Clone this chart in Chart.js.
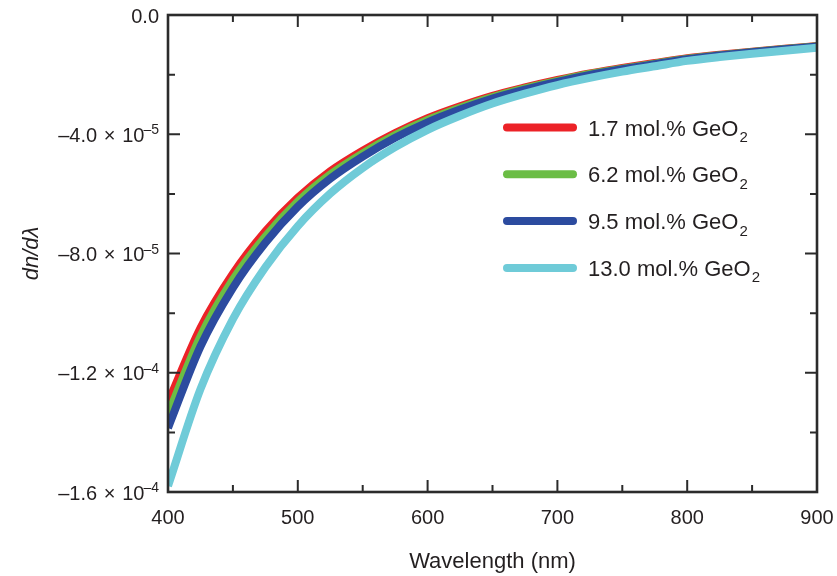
<!DOCTYPE html>
<html lang="en">
<head>
<meta charset="UTF-8">
<title>dn/dλ vs wavelength</title>
<script src="https://cdn.jsdelivr.net/npm/chart.js"></script>
<style>
    html, body { margin: 0; padding: 0; background: #fff; }
    #wrap { width: 837px; height: 576px; }
</style>
</head>
<body>
<div id="wrap"><canvas id="grafico" width="837" height="576"></canvas></div>
<script>
    // wavelength grid (nm)
    const wavelengths = [400, 425, 450, 475, 500, 525, 550, 575, 600, 625, 650,
                         675, 700, 725, 750, 775, 800, 825, 850, 875, 900];

    // dn/dλ values
    const ge17 = [-13.0e-5, -10.5e-5, -8.68e-5, -7.26e-5, -6.13e-5, -5.24e-5, -4.55e-5, -3.96e-5, -3.46e-5, -3.06e-5, -2.71e-5,
                  -2.43e-5, -2.18e-5, -1.96e-5, -1.78e-5, -1.61e-5, -1.45e-5, -1.33e-5, -1.23e-5, -1.13e-5, -1.04e-5];
    const ge62 = [-13.4e-5, -10.78e-5, -8.88e-5, -7.43e-5, -6.26e-5, -5.35e-5, -4.64e-5, -4.03e-5, -3.52e-5, -3.11e-5, -2.75e-5,
                  -2.46e-5, -2.21e-5, -1.98e-5, -1.80e-5, -1.63e-5, -1.47e-5, -1.35e-5, -1.24e-5, -1.14e-5, -1.05e-5];
    const ge95 = [-13.85e-5, -11.12e-5, -9.15e-5, -7.64e-5, -6.43e-5, -5.49e-5, -4.75e-5, -4.12e-5, -3.60e-5, -3.17e-5, -2.80e-5,
                  -2.50e-5, -2.24e-5, -2.01e-5, -1.82e-5, -1.65e-5, -1.48e-5, -1.36e-5, -1.25e-5, -1.15e-5, -1.06e-5];
    const ge130 = [-15.8e-5, -12.55e-5, -10.2e-5, -8.46e-5, -7.08e-5, -5.99e-5, -5.13e-5, -4.43e-5, -3.85e-5, -3.38e-5, -2.97e-5,
                   -2.64e-5, -2.35e-5, -2.11e-5, -1.90e-5, -1.72e-5, -1.54e-5, -1.41e-5, -1.30e-5, -1.20e-5, -1.10e-5];

    const seriesNames = ['1.7 mol.% GeO₂', '6.2 mol.% GeO₂', '9.5 mol.% GeO₂', '13.0 mol.% GeO₂'];
    const seriesColors = ['#ec2227', '#6bbd45', '#2c4b9f', '#6fcbd8'];

    const xMajorTicks = [400, 500, 600, 700, 800, 900];
    const xMinorTicks = [450, 550, 650, 750, 850];
    const yMajorTicks = [0, -4e-5, -8e-5, -1.2e-4, -1.6e-4];
    const yMinorTicks = [-2e-5, -6e-5, -1e-4, -1.4e-4];
    const yTickMantissa = ['0.0', '–4.0\u2004×\u200410', '–8.0\u2004×\u200410', '–1.2\u2004×\u200410', '–1.6\u2004×\u200410'];
    const yTickExponent = ['', '–5', '–5', '–4', '–4'];
    const xTitle = 'Wavelength (nm)';
    const yTitle = 'dn/dλ';

    const FONT = '"Liberation Sans", Arial, Helvetica, sans-serif';
    const AXIS_COLOR = '#2b2b2b';

    function toPoints(values) {
        return wavelengths.map((w, i) => ({ x: w, y: values[i] }));
    }

    // caja, marcas hacia dentro, etiquetas y leyenda
    const framePlugin = {
        id: 'framePlugin',
        afterDatasetsDraw(chart) {
            const c = chart.ctx;
            const a = chart.chartArea;
            const xs = chart.scales.x;
            const ys = chart.scales.y;
            c.save();
            c.strokeStyle = AXIS_COLOR;
            c.lineWidth = 2.6;
            c.strokeRect(a.left, a.top, a.right - a.left, a.bottom - a.top);

            c.lineWidth = 2;
            c.beginPath();
            const tickX = (v, len) => {
                const px = xs.getPixelForValue(v);
                c.moveTo(px, a.bottom); c.lineTo(px, a.bottom - len);
                c.moveTo(px, a.top); c.lineTo(px, a.top + len);
            };
            const tickY = (v, len) => {
                const py = ys.getPixelForValue(v);
                c.moveTo(a.left, py); c.lineTo(a.left + len, py);
                c.moveTo(a.right, py); c.lineTo(a.right - len, py);
            };
            xMajorTicks.forEach(v => tickX(v, 12));
            xMinorTicks.forEach(v => tickX(v, 7));
            yMajorTicks.forEach(v => tickY(v, 12));
            yMinorTicks.forEach(v => tickY(v, 7));
            c.stroke();

            // x tick labels
            c.fillStyle = '#231f20';
            c.font = '20px ' + FONT;
            c.textAlign = 'center';
            c.textBaseline = 'alphabetic';
            xMajorTicks.forEach(v => {
                c.fillText(String(v), xs.getPixelForValue(v), a.bottom + 32);
            });

            // y tick labels with superscript
            yMajorTicks.forEach((v, i) => {
                const py = ys.getPixelForValue(v);
                const rightEdge = a.left - 9;
                c.textAlign = 'left';
                c.font = '14px ' + FONT;
                const expW = yTickExponent[i] ? c.measureText(yTickExponent[i]).width : 0;
                c.font = '20px ' + FONT;
                const mainW = c.measureText(yTickMantissa[i]).width;
                const x0 = rightEdge - expW - mainW + (expW ? 1 : 0);
                c.fillText(yTickMantissa[i], x0, py + 7.5);
                if (yTickExponent[i]) {
                    c.font = '14px ' + FONT;
                    c.fillText(yTickExponent[i], x0 + mainW - 1, py);
                }
            });

            // axis titles
            c.font = '22px ' + FONT;
            c.textAlign = 'center';
            c.fillText(xTitle, (a.left + a.right) / 2, 568);
            c.save();
            c.translate(38, (a.top + a.bottom) / 2);
            c.rotate(-Math.PI / 2);
            c.font = 'italic 22px ' + FONT;
            c.fillText(yTitle, 0, 0);
            c.restore();

            // legend
            chart.data.datasets.forEach((ds, i) => {
                const ly = 127.5 + i * 46.8;
                c.strokeStyle = ds.borderColor;
                c.lineWidth = 8;
                c.lineCap = 'round';
                c.beginPath();
                c.moveTo(507, ly);
                c.lineTo(573, ly);
                c.stroke();
                const parts = ds.label.split('₂');
                c.fillStyle = '#231f20';
                c.textAlign = 'left';
                c.font = '22px ' + FONT;
                c.fillText(parts[0], 588, ly + 8);
                const w = c.measureText(parts[0]).width;
                c.font = '15px ' + FONT;
                c.fillText('2', 588 + w + 1, ly + 14.5);
            });
            c.restore();
        }
    };

    const datasets = [ge17, ge62, ge95, ge130].map((vals, i) => ({
        label: seriesNames[i],
        data: toPoints(vals),
        borderColor: seriesColors[i],
        backgroundColor: seriesColors[i],
        borderWidth: 8,
        pointRadius: 0,
        cubicInterpolationMode: 'monotone',
        fill: false,
        order: 4 - i // 13.0 % on top
    }));

    new Chart(document.getElementById('grafico').getContext('2d'), {
        type: 'line',
        data: { datasets: datasets },
        options: {
            responsive: false,
            animation: false,
            devicePixelRatio: 1,
            layout: { padding: { left: 168, right: 20, top: 15, bottom: 84 } },
            scales: {
                x: { type: 'linear', min: 400, max: 900, display: false },
                y: { type: 'linear', min: -1.6e-4, max: 0, display: false }
            },
            plugins: {
                legend: { display: false },
                tooltip: { enabled: false }
            }
        },
        plugins: [framePlugin]
    });
</script>
</body>
</html>
